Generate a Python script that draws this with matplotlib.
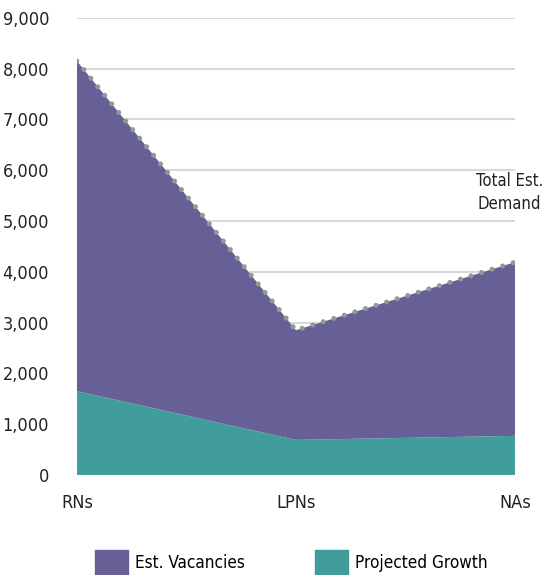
import matplotlib.pyplot as plt
from matplotlib.patches import Patch

# Datos del gráfico
categories = ['RNs', 'LPNs', 'NAs']
projected_growth = [1650, 690, 770]
est_vacancies = [6500, 2160, 3420]
total_demand = [g + v for g, v in zip(projected_growth, est_vacancies)]
y_ticks = list(range(0, 9001, 1000))

purple = '#676096'
teal = '#419d9c'
plt.rcParams['font.family'] = ['DejaVu Sans']
plt.rcParams['font.stretch'] = 'condensed'

fig = plt.figure(figsize=(5.45, 5.75), dpi=100)
ax = fig.add_axes([0.141, 0.174, 0.804, 0.795])

x = list(range(len(categories)))
ax.stackplot(x, projected_growth, est_vacancies, colors=[teal, purple], zorder=2)
ax.plot(x, total_demand, color='#8e9a94', lw=3.6, linestyle=(0, (0.01, 2.2)),
        dash_capstyle='round', zorder=3)

ax.set_xlim(0, 2)
ax.set_ylim(0, 9000)
ax.set_yticks(y_ticks)
ax.set_yticklabels([f'{v:,}' for v in y_ticks])
ax.set_xticks(x)
ax.set_xticklabels(categories)
ax.grid(axis='y', color='#d9d9d9', lw=1.5, zorder=0)
ax.set_axisbelow(True)
for s in ax.spines.values():
    s.set_visible(False)
ax.tick_params(length=0, labelsize=13, colors='#222222')
ax.tick_params(axis='y', pad=20)
ax.tick_params(axis='x', pad=14)

ax.text(1.975, 5560, 'Total Est.\nDemand', ha='center', va='center', fontsize=12,
        color='#222222', linespacing=1.3)

handles = [Patch(color=purple, label='Est. Vacancies'),
           Patch(color=teal, label='Projected Growth')]
fig.legend(handles=handles, loc='lower center', ncol=2, frameon=False,
           fontsize=12.3, handlelength=1.9, handleheight=1.75, handletextpad=0.45,
           columnspacing=4.1, bbox_to_anchor=(0.535, -0.025))

plt.savefig('out.png')
